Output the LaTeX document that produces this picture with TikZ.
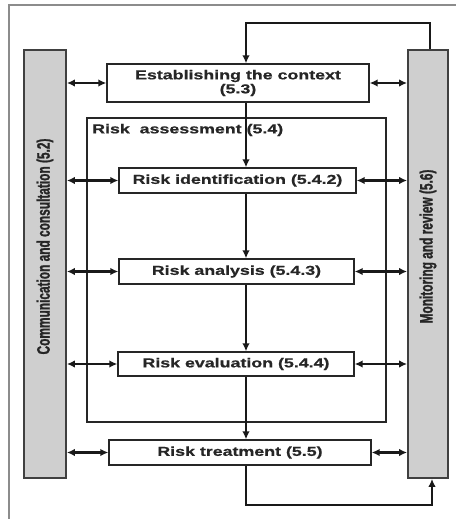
\documentclass[tikz,border=0pt]{standalone}
\usepackage{fontspec}
\setmainfont{Liberation Sans}
% wide face for the stage boxes, narrow face for the side bars
\newfontfamily\hfont{Liberation Sans}[FakeStretch=1.37, BoldFeatures={FakeBold=0.6}]
\newfontfamily\vfont{Liberation Sans}[FakeStretch=0.66, BoldFeatures={FakeBold=1.2}]
\usetikzlibrary{arrows.meta}
\begin{document}
\begin{tikzpicture}[x=1pt,y=-1pt,
  stage/.style={draw=black!85, line width=1.4pt, fill=white, inner sep=0pt,
    font=\hfont\bfseries\fontsize{13}{14}\selectfont, align=center, text=black!85},
  bar/.style={draw=black!75, line width=1.8pt, fill=black!19, inner sep=0pt},
  barlabel/.style={font=\vfont\bfseries\fontsize{18}{18}\selectfont, rotate=90, text=black!85},
  frame/.style={draw=black!85, line width=1.4pt, inner sep=0pt},
  flow/.style={line width=2.5pt, draw=black!90, -{Latex[length=8pt,width=7.5pt]}},
  link/.style={line width=2.5pt, draw=black!90,
    {Latex[length=8pt,width=7.5pt]}-{Latex[length=8pt,width=7.5pt]}},
]
\useasboundingbox[fill=white] (0,0) rectangle (456,519);

% outer border
\draw[black!45, line width=1.6pt] (9,519) -- (9,5) -- (456,5);

% side bars
\node[bar, minimum width=42pt, minimum height=428pt] (lbar) at (45,264) {};
\node[bar, minimum width=40pt, minimum height=428pt] (rbar) at (428,264) {};
\node[barlabel] (lbarlbl) at (45,246.5) {Communication and consultation (5.2)};
\node[barlabel] (rbarlbl) at (428,246.5) {Monitoring and review (5.6)};

% risk assessment frame
\node[frame, minimum width=299pt, minimum height=304pt] (assess) at (236.5,270) {};
\node[anchor=west, inner sep=0pt, text=black!85,
  font=\hfont\bfseries\fontsize{13}{14}\selectfont] (assesslbl) at (92,130)
  {Risk\ \ assessment (5.4)};

% process stages
\node[stage, minimum width=262pt, minimum height=38pt] (ctx) at (238,83)
  {Establishing the context\\(5.3)};
\node[stage, minimum width=237pt, minimum height=25pt] (ident) at (237.5,180.5)
  {Risk identification (5.4.2)};
\node[stage, minimum width=235pt, minimum height=25pt] (anal) at (236.5,271.5)
  {Risk analysis (5.4.3)};
\node[stage, minimum width=236pt, minimum height=24pt] (eval) at (236,364)
  {Risk evaluation (5.4.4)};
\node[stage, minimum width=262pt, minimum height=25pt] (treat) at (240,452.5)
  {Risk treatment (5.5)};

% main flow line and feedback loop
\coordinate (spine) at (246,0);
\coordinate (fbtop) at (430,23);
\coordinate (fbbot) at (432,505);
\draw[flow] (ctx.south -| spine) -- (ident.north -| spine);
\draw[flow] (ident.south -| spine) -- (anal.north -| spine);
\draw[flow] (anal.south -| spine) -- (eval.north -| spine);
\draw[flow] (eval.south -| spine) -- (treat.north -| spine);
\draw[flow] (rbar.north -| fbtop) -- (fbtop) -| (ctx.north -| spine);
\draw[flow] (treat.south -| spine) |- (fbbot) -- (rbar.south -| fbbot);

% exchanges with the side bars
\foreach \s in {ctx, ident, anal, eval, treat} {
  \draw[link] (lbar.east |- \s.west) -- (\s.west);
  \draw[link] (\s.east) -- (rbar.west |- \s.east);
}
\end{tikzpicture}
\end{document}
